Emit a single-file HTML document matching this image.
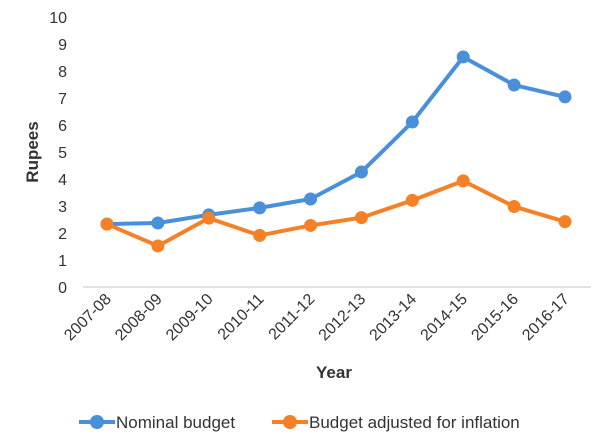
<!DOCTYPE html>
<html><head><meta charset="utf-8"><style>
body{margin:0;background:#fff;font-family:"Liberation Sans",sans-serif;}
svg text{font-family:"Liberation Sans",sans-serif;fill:#333;}
</style></head><body>
<svg id="c" width="600" height="441"></svg>
<script>
const categories=["2007-08","2008-09","2009-10","2010-11","2011-12","2012-13","2013-14","2014-15","2015-16","2016-17"];
const nominal=[2.33,2.37,2.67,2.93,3.26,4.26,6.11,8.52,7.48,7.04];
const adjusted=[2.33,1.52,2.55,1.91,2.28,2.57,3.21,3.93,2.98,2.42];
const yTicks=[0,1,2,3,4,5,6,7,8,9,10];
const NS="http://www.w3.org/2000/svg";
const svg=document.getElementById('c');
function el(t,a,p){const e=document.createElementNS(NS,t);for(const k in a)e.setAttribute(k,a[k]);(p||svg).appendChild(e);return e;}
const x=i=>107+i*(565-107)/(categories.length-1);
const y=v=>287-v*27;
const axis=el('line',{x1:83,x2:591,y1:y(0),y2:y(0),stroke:'#d9d9d9','stroke-width':1.5});


yTicks.forEach(t=>{const e=el('text',{x:67,y:y(t)+6,'text-anchor':'end','font-size':16});e.textContent=t;

});
categories.forEach((c,i)=>{const e=el('text',{x:x(i)+5,y:300,'text-anchor':'end','font-size':16,transform:`rotate(-45 ${x(i)+5} 300)`});e.textContent=c;

});
const yt=el('text',{x:0,y:0,'text-anchor':'middle','font-size':17,'font-weight':'bold',transform:'translate(38 152) rotate(-90)'});yt.textContent='Rupees';


const xt=el('text',{x:334,y:378,'text-anchor':'middle','font-size':17,'font-weight':'bold'});xt.textContent='Year';


function series(vals,color,name){
 const g=el('g',{});
 
 
 el('polyline',{points:vals.map((v,i)=>x(i)+','+y(v)).join(' '),fill:'none',stroke:color,'stroke-width':4,'stroke-linejoin':'round'},g);
 vals.forEach((v,i)=>{const m=el('circle',{cx:x(i),cy:y(v),r:6.5,fill:color},g);
 
 });
}
series(nominal,'#4a90d9','nominal-series');
series(adjusted,'#f58025','adjusted-series');
function legend(x0,color,label,name){
 const g=el('g',{});
 
 
 el('line',{x1:x0,x2:x0+36,y1:422,y2:422,stroke:color,'stroke-width':4},g);
 el('circle',{cx:x0+18,cy:422,r:7,fill:color},g);
 const t=el('text',{x:x0+37,y:428,'font-size':17},g);t.textContent=label;
}
legend(79,'#4a90d9','Nominal budget','legend-nominal');
legend(272,'#f58025','Budget adjusted for inflation','legend-adjusted');
</script>
</body></html>
